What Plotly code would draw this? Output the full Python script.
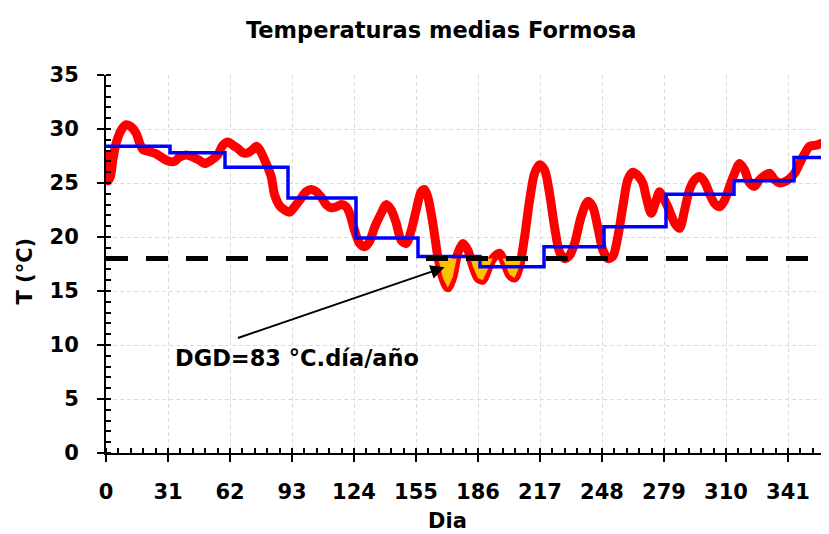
import numpy as np
import plotly.graph_objects as go

# ---- data ----
red_days = [0, 0.9, 2.2, 3.4, 5.1, 7.6, 10.1, 12.6, 15.1, 16.8, 18.4, 21.8, 25.1, 28.4, 31.8, 34.3,
            36.8, 40.1, 43.4, 46.8, 49.3, 52.6, 55.9, 58.4, 60.9, 63.4, 65.9, 68.4, 70.9, 73.4,
            75.1, 76.8, 80.1, 82.6, 84.3, 86.8, 89.3, 91.8, 94.3, 96.8, 100.1, 102.6, 105.1,
            107.6, 110.1, 112.6, 115.1, 117.6, 120.1, 121.8, 124.3, 126.8, 129.3, 131.8, 134.3,
            137.6, 140.1, 142.6, 145.1, 147.6, 150.1, 152.6, 155.1, 157.6, 159.3, 160.9, 163.4,
            165.9, 168.4, 170.9, 173.4, 175.9, 178.4, 180.9, 183.4, 185.9, 188.4, 190.9, 193.4,
            196.8, 199.3, 201.8, 204.3, 206.8, 209.3, 211.8, 214.3, 216.8, 219.3, 221.8, 224.3,
            226.8, 229.3, 231.8, 234.3, 237.6, 240.9, 243.4, 245.9, 248.4, 250.9, 253.4, 255.9,
            258.4, 260.9, 263.4, 265.9, 268.4, 270.1, 272.6, 275.1, 276.8, 278.4, 280.9, 284.3,
            286.8, 289.3, 291.8, 294.3, 296.8, 299.3, 301.8, 304.3, 306.8, 309.3, 311.8, 314.3,
            316.8, 319.3, 321.8, 324.3, 326.8, 329.3, 331.8, 334.3, 336.8, 339.3, 341.8, 344.3,
            346.8, 349.3, 351.8, 355.1, 358.4, 361.3, 363]
red_temps = [28.0, 25.2, 25.6, 27.1, 28.7, 29.9, 30.4, 30.2, 29.6, 28.7, 28.1, 27.9, 27.7, 27.3, 27.0, 27.0,
             27.4, 27.6, 27.4, 27.1, 26.8, 27.1, 27.6, 28.5, 28.8, 28.5, 28.2, 27.8, 27.8, 28.1,
             28.4, 28.1, 26.8, 25.6, 23.9, 22.9, 22.5, 22.3, 22.8, 23.4, 24.2, 24.4, 24.2,
             23.7, 23.0, 22.7, 22.8, 23.0, 22.8, 22.2, 20.6, 19.4, 19.1, 19.6, 20.9,
             22.2, 23.0, 22.5, 21.3, 19.7, 19.4, 20.6, 22.5, 24.2, 24.4, 23.7, 21.3,
             18.2, 16.2, 15.3, 16.3, 18.5, 19.4, 18.8, 17.3, 16.2, 16.0, 17.0, 18.0,
             18.5, 17.6, 16.5, 16.2, 17.3, 20.0, 23.4, 25.9, 26.7, 26.2, 24.0, 20.9,
             18.6, 18.0, 18.3, 19.4, 21.9, 23.3, 22.8, 20.9, 18.8, 18.0, 18.2, 20.0,
             22.8, 25.3, 26.0, 25.7, 25.0, 23.7, 22.2, 23.4, 24.2, 23.7, 22.8, 21.3,
             20.8, 22.5, 24.4, 25.3, 25.6, 25.1, 24.0, 23.1, 22.8, 23.4, 24.7, 25.9,
             26.8, 26.2, 25.0, 24.7, 25.3, 25.7, 25.9, 25.3, 25.0, 25.1, 25.4, 25.9,
             26.8, 27.7, 28.4, 28.5, 28.7, 28.7, 28.8]

month_start = [0, 32, 59.5, 91, 125, 156, 187, 219, 249, 280, 314, 344, 365]
monthly_mean = [28.4, 27.8, 26.45, 23.6, 19.9, 18.2, 17.25, 19.1, 20.95, 23.95, 25.2, 27.35]

base_temp = 18.0
x_ticks = [0, 31, 62, 93, 124, 155, 186, 217, 248, 279, 310, 341]

title_text = "Temperaturas medias Formosa"
x_title = "Dia"
y_title = "T (°C)"
dgd_text = "DGD=83 °C.día/año"

# ---- fill region below base temperature (with crossing points) ----
fx, fy = [], []
for i in range(len(red_days)):
    d, t = red_days[i], red_temps[i]
    if i > 0:
        d0, t0 = red_days[i - 1], red_temps[i - 1]
        if (t0 - base_temp) * (t - base_temp) < 0:
            xc = d0 + (base_temp - t0) * (d - d0) / (t - t0)
            fx.append(xc)
            fy.append(base_temp)
    fx.append(d)
    fy.append(min(t, base_temp))

FONT = "DejaVu Sans"

fig = go.Figure()
fig.add_trace(go.Scatter(x=red_days, y=red_temps, mode="lines",
                         line=dict(color="#FF0000", width=9, shape="spline", smoothing=0.8),
                         showlegend=False))
fig.add_trace(go.Scatter(x=fx, y=[base_temp] * len(fx), mode="lines",
                         line=dict(width=0, color="rgba(0,0,0,0)"), hoverinfo="skip", showlegend=False))
fig.add_trace(go.Scatter(x=fx, y=fy, mode="lines", fill="tonexty", fillcolor="#FFC000",
                         line=dict(width=0, color="rgba(0,0,0,0)"), hoverinfo="skip", showlegend=False))
fig.add_trace(go.Scatter(x=month_start, y=monthly_mean + [monthly_mean[-1]], mode="lines",
                         line=dict(color="#0000FF", width=3.5, shape="hv"), showlegend=False))
fig.add_trace(go.Scatter(x=[0, 365], y=[base_temp, base_temp], mode="lines",
                         line=dict(color="black", width=5, dash="22px,18px"), showlegend=False))

tickfont = dict(family=FONT, size=21, color="black", weight="bold")

fig.update_xaxes(range=[0, 361.5], tickvals=x_ticks, ticktext=[str(v) for v in x_ticks],
                 showline=True, linecolor="black", linewidth=2, mirror=False, automargin=False,
                 ticks="outside", ticklen=7, tickwidth=2, tickcolor="black",
                 minor=dict(dtick=6.2, tick0=0, ticks="inside", ticklen=5, tickwidth=1.5,
                            tickcolor="black", showgrid=False),
                 showgrid=True, gridcolor="#dcdcdc", gridwidth=1, griddash="4px,3px",
                 zeroline=False, tickfont=tickfont, ticklabelstandoff=12)
fig.update_yaxes(range=[0, 35], dtick=5, tick0=0, automargin=False,
                 showline=True, linecolor="black", linewidth=2,
                 ticks="outside", ticklen=7, tickwidth=2, tickcolor="black",
                 minor=dict(dtick=1, ticks="inside", ticklen=5, tickwidth=1.5,
                            tickcolor="black", showgrid=False),
                 showgrid=True, gridcolor="#dcdcdc", gridwidth=1, griddash="4px,3px",
                 zeroline=False, tickfont=tickfont, ticklabelstandoff=14)

fig.add_annotation(text=f"<b>{title_text}</b>", xref="paper", yref="paper", x=0.464, y=1.119,
                   xanchor="center", yanchor="middle", showarrow=False,
                   font=dict(family=FONT, size=22.5, color="black"))
fig.add_annotation(text=f"<b>{x_title}</b>", xref="paper", yref="paper", x=0.473, y=-0.18,
                   xanchor="center", yanchor="middle", showarrow=False,
                   font=dict(family=FONT, size=21, color="black"))
fig.add_annotation(text=f"<b>{y_title}</b>", xref="paper", yref="paper", x=-0.112, y=0.48,
                   xanchor="center", yanchor="middle", showarrow=False, textangle=-90,
                   font=dict(family=FONT, size=21, color="black"))
fig.add_annotation(text=f"<b>{dgd_text}</b>", x=95.3, y=8.8, xref="x", yref="y",
                   xanchor="center", yanchor="middle", showarrow=False,
                   font=dict(family=FONT, size=22.5, color="black"))
fig.add_annotation(text="", x=169.3, y=17.2, ax=65.2, ay=10.6, xref="x", yref="y",
                   axref="x", ayref="y", showarrow=True, arrowhead=2, arrowsize=1.4,
                   arrowwidth=2, arrowcolor="black", standoff=0, startstandoff=0)

# the page places the figure 8px in from the top-left corner, so the figure is
# sized and offset to land the plot area where the reference has it
fig.update_layout(width=821, height=526, margin=dict(l=98, r=0, t=67, b=81, autoexpand=False),
                  plot_bgcolor="white", paper_bgcolor="white", showlegend=False)

fig.write_html("out.html")
